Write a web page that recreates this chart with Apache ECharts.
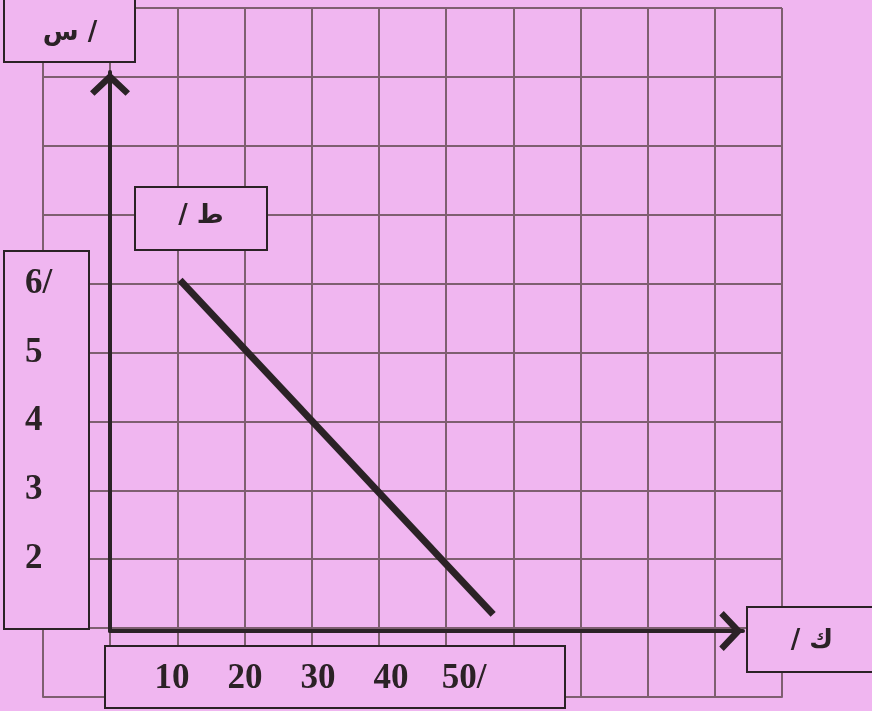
<!DOCTYPE html>
<html>
<head>
<meta charset="utf-8">
<title>chart</title>
<script src="https://cdn.jsdelivr.net/npm/echarts@6.0.0/dist/echarts.min.js"></script>
<style>
  html, body { margin: 0; padding: 0; background: #f0b6f0; }
  #chart { width: 872px; height: 711px; }
</style>
</head>
<body>
<div id="chart"></div>
<script>
// ---------------- data ----------------
const lineX = [10.4, 57];        // ك
const lineY = [6.05, 1.2];       // س
const xTickValues = [10, 20, 30, 40, 50];
const xTickLabels = ['10', '20', '30', '40', '50/'];
const yTickValues = [6, 5, 4, 3, 2];
const yTickLabels = ['6/', '5', '4', '3', '2'];
const yAxisName = 'س /';
const xAxisName = '/ ك';
const lineName = '/ ط';

// ---------------- colours / fonts ----------------
const PINK = '#f0b6f0';
const INK = '#2b2226';
const PAPER_LINE = '#7e5f70';
const DIGIT_FONT = { fontFamily: '"Liberation Serif"', fontWeight: 'bold', fontSize: 35, color: INK };
const ARABIC_FONT = 'bold 26px "DejaVu Sans"';

// open chevron, drawn pointing up (echarts rotates it along the axis)
const ARROW = 'path://M0,19 L20,0 L40,19 L35.5,23.5 L20,9 L4.5,23.5 Z';

const hidden = { show: false };

// label box with pink fill
const box = (x, y, w, h) => ({
  type: 'rect', z: 10,
  shape: { x, y, width: w, height: h },
  style: { fill: PINK, stroke: INK, lineWidth: 2 }
});
const boxText = (x, y, text) => ({
  type: 'text', z: 11, x, y,
  style: { text, fill: INK, font: ARABIC_FONT, textAlign: 'center', textVerticalAlign: 'middle' }
});

const chart = echarts.init(document.getElementById('chart'));

const option = {
  backgroundColor: PINK,
  animation: false,
  grid: [
    // graph paper
    { left: 43, top: 8, width: 739, height: 689, outerBoundsMode: 'none' },
    // arrowed axes
    { left: 110, top: 72, right: 129, bottom: 80, outerBoundsMode: 'none' },
    // x tick labels row
    { left: 172, width: 292, top: 669, height: 10, outerBoundsMode: 'none' }
  ],
  xAxis: [
    {
      gridIndex: 0, type: 'value', min: -10, max: 100, interval: 10, z: 0,
      axisLine: { show: true, lineStyle: { color: PAPER_LINE, width: 2 } },
      axisTick: hidden, axisLabel: hidden,
      splitLine: { show: true, lineStyle: { color: PAPER_LINE, width: 2 } }
    },
    {
      gridIndex: 1, type: 'value', min: 0, max: 1, z: 5,
      axisLine: {
        show: true, symbol: ['none', ARROW], symbolSize: [40, 24], symbolOffset: [0, -12],
        lineStyle: { color: INK, width: 4 }
      },
      axisTick: hidden, axisLabel: hidden, splitLine: hidden
    },
    {
      gridIndex: 2, type: 'value', min: 10, max: 50, interval: 10, z: 20,
      axisLine: hidden, axisTick: hidden, splitLine: hidden,
      axisLabel: Object.assign({
        show: true, margin: 0, verticalAlign: 'middle', align: 'center',
        showMinLabel: true, showMaxLabel: true,
        formatter: v => { const i = xTickValues.indexOf(v); return i < 0 ? '' : xTickLabels[i]; }
      }, DIGIT_FONT)
    }
  ],
  yAxis: [
    {
      gridIndex: 0, type: 'value', min: 0, max: 10, interval: 1, z: 0,
      axisLine: { show: true, lineStyle: { color: PAPER_LINE, width: 2 } },
      axisTick: hidden, axisLabel: hidden,
      splitLine: { show: true, lineStyle: { color: PAPER_LINE, width: 2 } }
    },
    {
      gridIndex: 1, type: 'value', min: 0, max: 1, z: 5,
      axisLine: {
        show: true, symbol: ['none', ARROW], symbolSize: [40, 24], symbolOffset: [0, -12],
        lineStyle: { color: INK, width: 4 }
      },
      axisTick: hidden, axisLabel: hidden, splitLine: hidden
    },
    {
      // y tick labels sit on the paper rows, above the label box
      gridIndex: 0, type: 'value', min: 0, max: 10, interval: 1, z: 20,
      position: 'left', offset: 0,
      axisLine: hidden, axisTick: hidden, splitLine: hidden,
      axisLabel: Object.assign({
        show: true, margin: 18, align: 'left', verticalAlign: 'middle',
        formatter: v => { const i = yTickValues.indexOf(v); return i < 0 ? '' : yTickLabels[i]; }
      }, DIGIT_FONT)
    },
    {
      // dummy y axis for the x tick label row
      gridIndex: 2, type: 'value', min: 0, max: 1,
      axisLine: hidden, axisTick: hidden, axisLabel: hidden, splitLine: hidden
    }
  ],
  series: [{
    name: lineName,
    type: 'line',
    xAxisIndex: 0, yAxisIndex: 0,
    symbol: 'none',
    silent: true,
    lineStyle: { color: INK, width: 7, cap: 'butt' },
    data: lineX.map((x, i) => [x, lineY[i]])
  }],
  graphic: [
    box(4, -1, 131, 63), boxText(70, 33, yAxisName),
    box(135, 187, 132, 63), boxText(201, 216, lineName),
    box(747, 607, 130, 65), boxText(812, 641, xAxisName),
    box(4, 251, 85, 378),
    box(105, 646, 460, 62)
  ]
};

chart.setOption(option);
</script>
</body>
</html>
